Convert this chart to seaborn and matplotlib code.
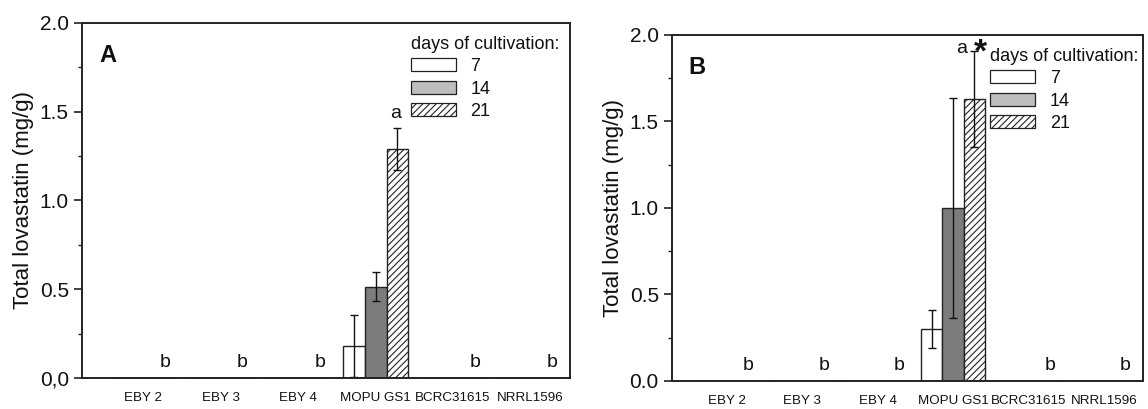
import numpy as np
import pandas as pd
import matplotlib
matplotlib.use("Agg")
import matplotlib.pyplot as plt
import seaborn as sns
from matplotlib.patches import Patch
from matplotlib.ticker import MultipleLocator


strains = ["EBY 2", "EBY 3", "EBY 4", "MOPU GS1", "BCRC31615", "NRRL1596"]
days = ["7", "14", "21"]

# panel A, mean and sd per day (only MOPU GS1 produced lovastatin)
a_d7 = [0, 0, 0, 0.18, 0, 0]
a_d14 = [0, 0, 0, 0.515, 0, 0]
a_d21 = [0, 0, 0, 1.29, 0, 0]
a_sd7 = [0, 0, 0, 0.175, 0, 0]
a_sd14 = [0, 0, 0, 0.08, 0, 0]
a_sd21 = [0, 0, 0, 0.12, 0, 0]
a_letters = ["b", "b", "b", "a", "b", "b"]
a_ticklabels = ["0,0", "0.5", "1.0", "1.5", "2.0"]

# panel B
b_d7 = [0, 0, 0, 0.30, 0, 0]
b_d14 = [0, 0, 0, 1.0, 0, 0]
b_d21 = [0, 0, 0, 1.63, 0, 0]
b_sd7 = [0, 0, 0, 0.11, 0, 0]
b_sd14 = [0, 0, 0, 0.635, 0, 0]
b_sd21 = [0, 0, 0, 0.275, 0, 0]
b_letters = ["b", "b", "b", "a", "b", "b"]
b_ticklabels = ["0.0", "0.5", "1.0", "1.5", "2.0"]

sns.set_theme(style="white")
plt.rcParams["font.family"] = ["Liberation Sans", "DejaVu Sans"]
for key in ["text.color", "axes.labelcolor", "xtick.color", "ytick.color"]:
    plt.rcParams[key] = "#111111"

colors = ["white", "#7c7c7c", "white"]
legend_colors = ["white", "#bdbdbd", "white"]
hatches = ["", "", "/////"]
plt.rcParams["hatch.linewidth"] = 0.8


def make_df(d7, d14, d21):
    rows = []
    for day, vals in zip(days, [d7, d14, d21]):
        for s, v in zip(strains, vals):
            rows.append({"strain": s, "day": day, "value": v})
    return pd.DataFrame(rows)


def draw_panel(ax, df, sds, letters, ticklabels, panel, xlim, star=False):
    sns.barplot(data=df, x="strain", y="value", hue="day", order=strains,
                hue_order=days, palette=colors, edgecolor="#222222",
                linewidth=1.0, width=0.85, errorbar=None, legend=False,
                saturation=1, ax=ax)

    for cont, hatch, sd in zip(ax.containers, hatches, sds):
        xs, ys, es = [], [], []
        for bar, e in zip(cont, sd):
            bar.set_hatch(hatch)
            if bar.get_height() > 0:
                xs.append(bar.get_x() + bar.get_width() / 2)
                ys.append(bar.get_height())
                es.append(e)
        ax.errorbar(xs, ys, yerr=es, fmt="none", ecolor="#111111",
                    elinewidth=1.0, capsize=3, capthick=1.0)

    # letters above the 21 day bar position
    hatched = ax.containers[2]
    top21 = [b.get_height() + e for b, e in zip(hatched, sds[2])]
    for bar, let, top in zip(hatched, letters, top21):
        x = bar.get_x() + bar.get_width() / 2
        if top == 0:
            ax.text(x, 0.04, let, ha="center", va="bottom", fontsize=14)
        elif star:
            ax.text(x - 0.1, top - 0.03, let, ha="right", va="bottom",
                    fontsize=14)
            ax.text(x - 0.01, top - 0.1, "*", ha="left", va="bottom",
                    fontsize=24, fontweight="bold")
        else:
            ax.text(x - 0.03, top + 0.03, let, ha="center", va="bottom",
                    fontsize=14)

    ax.set_xlim(*xlim)
    ax.set_ylim(0, 2.0)
    ax.yaxis.set_major_locator(MultipleLocator(0.5))
    ax.yaxis.set_minor_locator(MultipleLocator(0.25))
    ax.set_yticks([0, 0.5, 1.0, 1.5, 2.0])
    ax.set_yticklabels(ticklabels, fontsize=15)
    ax.tick_params(axis="y", which="major", direction="out", length=6,
                   width=1.2, left=True, color="#222222")
    ax.tick_params(axis="y", which="minor", direction="out", length=3,
                   width=1.0, left=True, color="#222222")
    ax.tick_params(axis="x", bottom=False, labelsize=9.6, pad=4)
    ax.set_xlabel("")
    ax.set_ylabel("Total lovastatin (mg/g)", fontsize=16, labelpad=4)
    for sp in ax.spines.values():
        sp.set_color("#222222")
        sp.set_linewidth(1.4)

    ax.text(0.035, 0.94, panel, transform=ax.transAxes, fontsize=17,
            fontweight="bold", va="top", ha="left")

    handles = [Patch(facecolor=c, edgecolor="#222222", hatch=h, linewidth=0.9)
               for c, h in zip(legend_colors, hatches)]
    ax.legend(handles, days, title="days of cultivation:",
              loc="upper left", bbox_to_anchor=(0.641, 1.01),
              frameon=False, fontsize=13, title_fontsize=13,
              handlelength=2.5, handleheight=0.75, labelspacing=0.3,
              handletextpad=0.8, alignment="left")


fig = plt.figure(figsize=(11.48, 4.09), dpi=100)
ax1 = fig.add_axes([0.0714, 0.0758, 0.4251, 0.868])
ax2 = fig.add_axes([0.5854, 0.0685, 0.4102, 0.846])

draw_panel(ax1, make_df(a_d7, a_d14, a_d21), [a_sd7, a_sd14, a_sd21],
           a_letters, a_ticklabels, "A", (-0.79, 5.51))
draw_panel(ax2, make_df(b_d7, b_d14, b_d21), [b_sd7, b_sd14, b_sd21],
           b_letters, b_ticklabels, "B", (-0.73, 5.52), star=True)

fig.savefig("out.png", dpi=100)
